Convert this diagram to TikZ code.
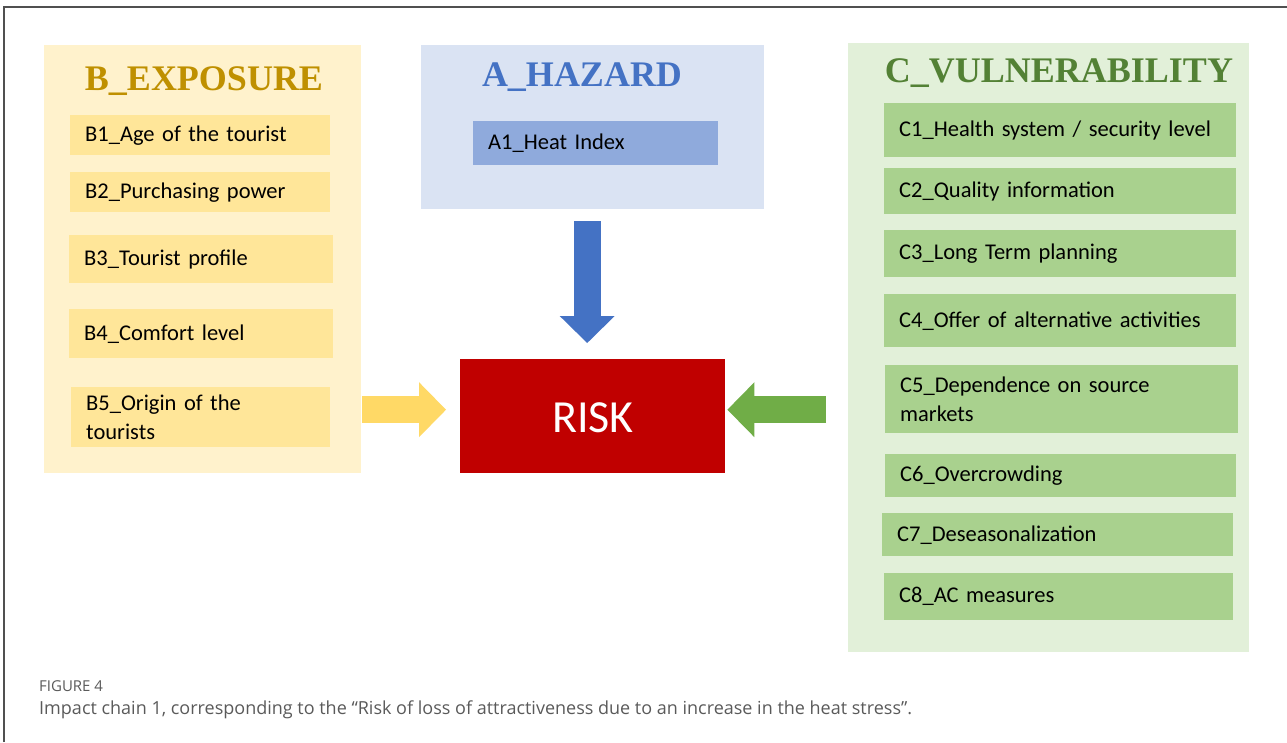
\documentclass[tikz,border=0pt]{standalone}
\usepackage{fontspec}
\setmainfont{Carlito}
\newfontfamily\titlefont{Liberation Serif}
\newfontfamily\capfont{Open Sans}
\usetikzlibrary{arrows.meta,calc}

\definecolor{expofill}{HTML}{FFF2CC}
\definecolor{expobox}{HTML}{FFE699}
\definecolor{expotitle}{HTML}{BF9000}
\definecolor{expoarrow}{HTML}{FFD966}
\definecolor{hazfill}{HTML}{DAE3F3}
\definecolor{hazbox}{HTML}{8FAADC}
\definecolor{haztitle}{HTML}{4472C4}
\definecolor{vulnfill}{HTML}{E2F0D9}
\definecolor{vulnbox}{HTML}{A9D18E}
\definecolor{vulntitle}{HTML}{538135}
\definecolor{vulnarrow}{HTML}{70AD47}
\definecolor{riskred}{HTML}{C00000}
\definecolor{framegray}{HTML}{505050}
\definecolor{capgray}{HTML}{5A5A5A}

\begin{document}
\begin{tikzpicture}[x=1pt, y=-1pt,
    panel/.style={anchor=north west, inner sep=0pt},
    item/.style={anchor=north west, inner xsep=15pt, inner ysep=0pt, align=left,
      font=\fontsize{22.5}{28.5}\selectfont},
    title/.style={anchor=base, inner sep=0pt, font=\titlefont\bfseries\fontsize{36}{40}\selectfont},
    blockarrow/.style={line width=27pt, -{Triangle[length=27pt,width=55pt,line width=0pt]}}]
        \useasboundingbox (0,0) rectangle (1287,742);
        \draw[framegray, line width=1.5pt] (4,742) -- (4,7) -- (1287,7);

        % exposure
        \node[panel, fill=expofill, minimum width=317, minimum height=428] (expo) at (44,45) {};
        \node[title, text=expotitle] (expotitle) at (204,90) {B\_EXPOSURE};
        \node[item, fill=expobox, text width=230, minimum height=40] (b1) at (70,115) {B1\_Age of the tourist};
        \node[item, fill=expobox, text width=230, minimum height=40] (b2) at (70,172) {B2\_Purchasing power};
        \node[item, fill=expobox, text width=234, minimum height=48] (b3) at (69,235) {B3\_Tourist profile};
        \node[item, fill=expobox, text width=234, minimum height=49] (b4) at (69,309) {B4\_Comfort level};
        \node[item, fill=expobox, text width=229, minimum height=60] (b5) at (71,387) {B5\_Origin of the\\tourists};

        % hazard
        \node[panel, fill=hazfill, minimum width=343, minimum height=164] (hazard) at (421,45) {};
        \node[title, text=haztitle] (haztitle) at (582,86) {A\_HAZARD};
        \node[item, fill=hazbox, text width=215, minimum height=44] (a1) at (473,121) {A1\_Heat Index};

        % vulnerability
        \node[panel, fill=vulnfill, minimum width=401, minimum height=609] (vuln) at (848,43) {};
        \node[title, text=vulntitle] (vulntitle) at (1059,82) {C\_VULNERABILITY};
        \node[item, fill=vulnbox, text width=322, minimum height=54] (c1) at (884,103) {C1\_Health system / security level};
        \node[item, fill=vulnbox, text width=322, minimum height=46] (c2) at (884,168) {C2\_Quality information};
        \node[item, fill=vulnbox, text width=322, minimum height=47] (c3) at (884,230) {C3\_Long Term planning};
        \node[item, fill=vulnbox, text width=322, minimum height=53] (c4) at (884,294) {C4\_Offer of alternative activities};
        \node[item, fill=vulnbox, text width=323, minimum height=68] (c5) at (885,365) {C5\_Dependence on source\\markets};
        \node[item, fill=vulnbox, text width=321, minimum height=43] (c6) at (885,454) {C6\_Overcrowding};
        \node[item, fill=vulnbox, text width=321, minimum height=43] (c7) at (882,513) {C7\_Deseasonalization};
        \node[item, fill=vulnbox, text width=319, minimum height=47] (c8) at (884,573) {C8\_AC measures};

        % risk
        \node[panel, fill=riskred, minimum width=265, minimum height=114] (risk) at (460,359) {};
        \node[anchor=base, inner sep=0pt, text=white, font=\fontsize{46}{50}\selectfont] (risktext) at (593,432) {RISK};

        \draw[blockarrow, draw=haztitle] ($(hazard.south)+(-5.5,12)$) -- ($(risk.north)+(-5.5,-16)$);
        \draw[blockarrow, draw=expoarrow] ($(risk.west -| expo.east)+(1,-6.5)$) -- ($(risk.west)+(-14,-6.5)$);
        \draw[blockarrow, draw=vulnarrow] ($(risk.east -| vuln.west)+(-22,-6.5)$) -- ($(risk.east)+(2,-6.5)$);

        % caption
        \node[anchor=base west, inner sep=0pt, text=capgray, font=\capfont\fontsize{15}{16}\selectfont] (fig) at (39,691) {FIGURE 4};
        \node[anchor=base west, inner sep=0pt, text=capgray, font=\capfont\fontsize{18}{20}\selectfont] (caption) at (39,714) {Impact chain 1, corresponding to the “Risk of loss of attractiveness due to an increase in the heat stress”.};
      \end{tikzpicture}
\end{document}
